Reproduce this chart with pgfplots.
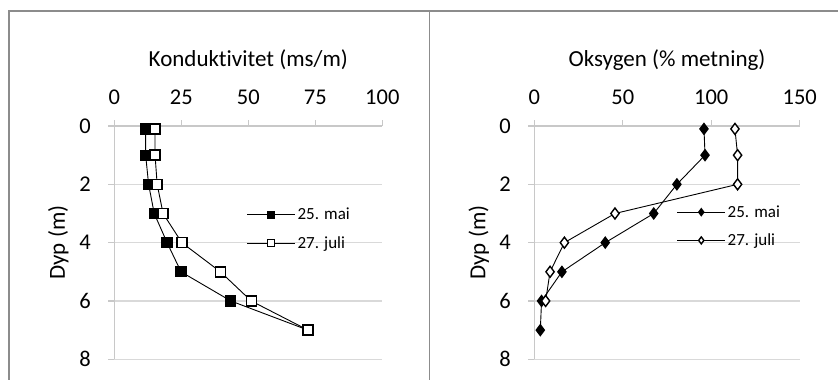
\documentclass[border=0pt]{standalone}
\usepackage{fontspec}
\setmainfont{Carlito}[Ligatures=NoCommon]
\usepackage{pgfplots}
\pgfplotsset{compat=1.18}
\definecolor{framec}{RGB}{140,140,140}
\definecolor{gridc}{RGB}{217,217,217}
\definecolor{axc}{RGB}{200,200,200}
\pgfplotsset{
 profile/.style={
  scale only axis, height=233.3pt, y dir=reverse, ymin=0, ymax=8, ytick={0,2,4,6,8}, xmin=0,
  axis x line*=top, axis y line*=left,
  axis line style={axc, line width=1.2pt, -},
  ymajorgrids, grid style={gridc, line width=1.2pt},
  tick align=outside, major tick length=6pt, tick style={axc, line width=1.2pt},
  tick label style={font=\fontsize{22.5pt}{26pt}\selectfont},
  /pgf/number format/assume math mode=true,
  xticklabel style={anchor=base, yshift=16pt},
  yticklabel style={anchor=east, xshift=-14pt},
  title style={at={(axis description cs:0.5,1.23)}, anchor=base, font=\fontsize{23pt}{27pt}\selectfont},
  ylabel style={at={(axis description cs:-0.184,0.5)}, anchor=base, font=\fontsize{23pt}{27pt}\selectfont},
  ylabel={Dyp (m)},
  clip=false,
  legend style={draw=none, fill=none, inner sep=0pt, outer sep=0pt, anchor=west,
    font=\fontsize{17pt}{20pt}\selectfont, row sep=11pt, cells={anchor=west}},
  legend image code/.code={\draw[mark repeat=2,mark phase=2,##1,mark size=3.5pt] plot coordinates {(0pt,0pt)(24pt,0pt)(48pt,0pt)};},
 },
 serA/.style={black, line width=0.9pt, mark=square*, mark size=5pt, mark options={fill=black, line width=1.2pt}},
 serB/.style={black, line width=0.9pt, mark=square*, mark size=5pt, mark options={fill=white, line width=1.4pt}},
 serC/.style={black, line width=0.9pt, mark=diamond*, mark size=5.5pt, mark options={fill=black, line width=1.2pt}},
 serD/.style={black, line width=0.9pt, mark=diamond*, mark size=5.5pt, mark options={fill=white, line width=1.4pt}},
}
\begin{document}
\begin{tikzpicture}
\useasboundingbox (0,0) rectangle (838pt,380pt);
\draw[framec, line width=1.5pt] (9pt,-5pt) -- (9pt,369pt) -- (845pt,369pt);
\draw[framec, line width=1.5pt] (429.3pt,-5pt) -- (429.3pt,369pt);
\begin{axis}[profile, at={(114.3pt,20.7pt)}, anchor=south west, width=268pt,
  xmax=100, xtick={0,25,50,75,100}, title={Konduktivitet (ms/m)},
  legend style={at={(axis description cs:0.494,0.559)}}]
\addplot[serA] coordinates {(11.7,0.1) (11.7,1) (12.8,2) (14.9,3) (19.7,4) (24.9,5) (43.5,6) (72.3,7)};
\addlegendentry{25. mai}
\addplot[serB] coordinates {(15.2,0.1) (15.2,1) (16.0,2) (18.2,3) (25.2,4) (39.6,5) (51.1,6) (72.3,7)};
\addlegendentry{27. juli}
\end{axis}
\begin{axis}[profile, at={(534.3pt,20.7pt)}, anchor=south west, width=265.4pt,
  xmax=150, xtick={0,50,100,150}, title={Oksygen (\% metning)},
  legend style={at={(axis description cs:0.537,0.570)}}]
\addplot[serC] coordinates {(95.9,0.1) (96.5,1) (80.6,2) (67.5,3) (40.1,4) (15.6,5) (4.1,6) (3.4,7)};
\addlegendentry{25. mai}
\addplot[serD] coordinates {(113.4,0.1) (114.9,1) (114.9,2) (45.6,3) (17.0,4) (8.9,5) (6.4,6)};
\addlegendentry{27. juli}
\end{axis}
\end{tikzpicture}
\end{document}
